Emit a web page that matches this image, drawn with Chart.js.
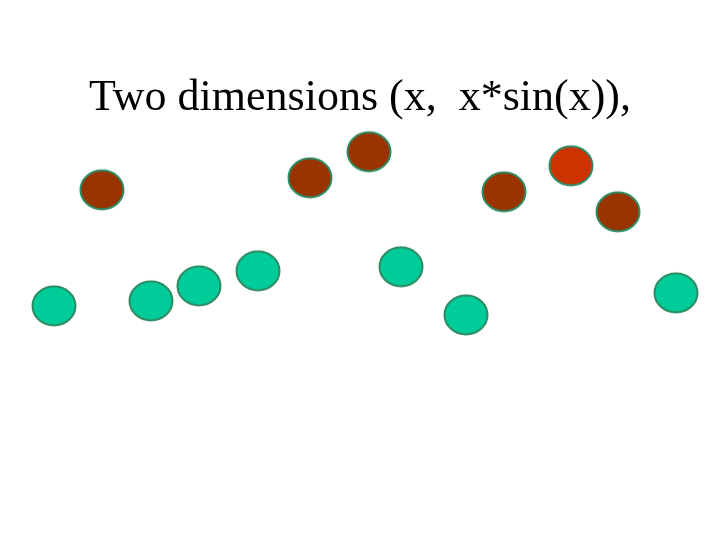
<!DOCTYPE html>
<html>
<head>
<meta charset="utf-8">
<script src="https://cdn.jsdelivr.net/npm/chart.js@4.4.1/dist/chart.umd.min.js"></script>
<style>
  html, body { margin: 0; padding: 0; background: #fff; }
  #wrap { width: 720px; height: 540px; }
</style>
</head>
<body>
<div id="wrap"><canvas id="chart"></canvas></div>
<script>
// points (x across, y up from the bottom edge)
const brownX = [102, 310, 369, 504, 618]
const brownY = [350, 362, 388, 348, 328]
const redX = [571]
const redY = [374]
const greenX = [54, 151, 199, 258, 401, 466, 676]
const greenY = [234, 239, 254, 269, 273, 225, 247]

const titleText = 'Two dimensions (x,  x*sin(x)),'

function toPoints(xs, ys) {
  return xs.map(function(x, i) {
    return { x: x, y: ys[i] }
  })
}

// chart.js has no ellipse marker, so draw one on a small canvas
function ellipse(fill) {
  const c = document.createElement('canvas')
  c.width = 48
  c.height = 44
  const ctx = c.getContext('2d')
  ctx.beginPath()
  ctx.ellipse(24, 22, 21.5, 19.5, 0, 0, Math.PI * 2)
  ctx.fillStyle = fill
  ctx.fill()
  ctx.lineWidth = 2
  ctx.strokeStyle = '#2e8b63'
  ctx.stroke()
  return c
}

const ctx = document.getElementById('chart').getContext('2d')
new Chart(ctx, {
  type: 'scatter',
  data: {
    datasets: [{
      label: 'brown',
      data: toPoints(brownX, brownY),
      pointStyle: ellipse('#993300')
    }, {
      label: 'red',
      data: toPoints(redX, redY),
      pointStyle: ellipse('#cc3300')
    }, {
      label: 'green',
      data: toPoints(greenX, greenY),
      pointStyle: ellipse('#00cc99')
    }]
  },
  options: {
    responsive: true,
    maintainAspectRatio: false,
    animation: false,
    clip: false,
    layout: { padding: 0, autoPadding: false },
    plugins: {
      legend: { display: false },
      tooltip: { enabled: false },
      title: {
        display: true,
        text: titleText,
        color: '#000',
        font: { family: '"Liberation Serif", "Times New Roman", serif', size: 44, weight: 'normal', lineHeight: 1.2 },
        padding: { top: 72, bottom: 5 }
      }
    },
    scales: {
      x: { type: 'linear', display: false, min: 0, max: 720 },
      y: { type: 'linear', display: false, min: 0, max: 410 }
    }
  }
})
</script>
</body>
</html>
